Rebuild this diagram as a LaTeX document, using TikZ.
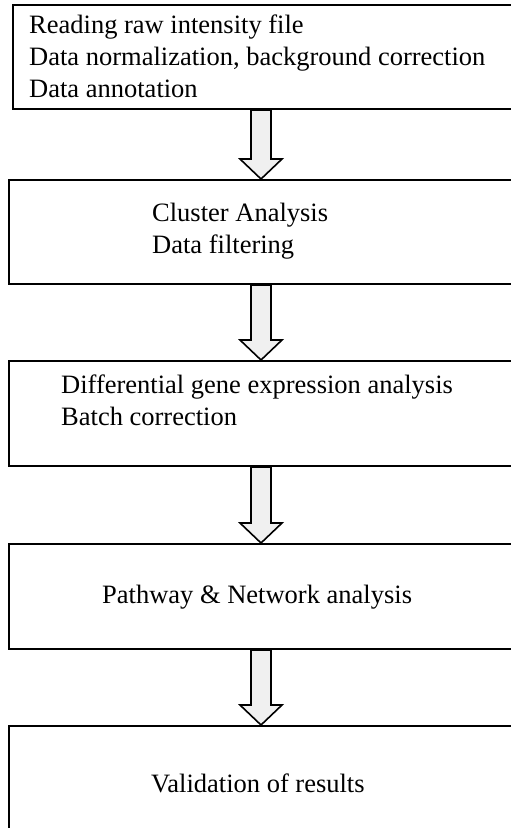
\documentclass[tikz,border=0pt]{standalone}
\usepackage{fontspec}
\setmainfont{Liberation Serif}
\usetikzlibrary{calc}
\begin{document}
\begin{tikzpicture}[x=1pt,y=-1pt,
  box/.style={draw=black,line width=2pt,rectangle,inner sep=0pt,anchor=north west,minimum width=540pt},
  lbl/.style={anchor=base west,inner sep=0pt,font=\fontsize{26.5}{32}\selectfont},
  arr/.style={draw=black,line width=1.6pt,fill=black!6,line join=miter}]
\useasboundingbox (0,0) rectangle (511,828);
\clip (0,0) rectangle (511,828);
\fill[white] (0,0) rectangle (511,828);
% boxes
\node[box,minimum height=104pt] (b1) at (12,4) {};
\node[box,minimum height=104pt] (b2) at (8,179) {};
\node[box,minimum height=105pt] (b3) at (8,360) {};
\node[box,minimum height=105pt] (b4) at (8,543) {};
\node[box,minimum height=140pt] (b5) at (8,725) {};
% texts
\node[lbl] (t1a) at (29,33) {Reading raw intensity file};
\node[lbl] (t1b) at (29,65) {Data normalization, background correction};
\node[lbl] (t1c) at (29,97) {Data annotation};
\node[lbl] (t2a) at (152,221) {Cluster Analysis};
\node[lbl] (t2b) at (152,253) {Data filtering};
\node[lbl] (t3a) at (61,393) {Differential gene expression analysis};
\node[lbl] (t3b) at (61,425) {Batch correction};
\node[lbl] (t4a) at (102,603) {Pathway \& Network analysis};
\node[lbl] (t5a) at (151,792) {Validation of results};
% arrows
\coordinate (ax) at (261,0);
\newcommand\fatarrow[2]{%
  \draw[arr] ($(#1 -| ax)+(-10,0)$) -- ($(#2 -| ax)+(-10,-20)$) -- ($(#2 -| ax)+(-21,-20)$) -- (#2 -| ax)
    -- ($(#2 -| ax)+(21,-20)$) -- ($(#2 -| ax)+(10,-20)$) -- ($(#1 -| ax)+(10,0)$) -- cycle;}
\fatarrow{b1.south}{b2.north}
\fatarrow{b2.south}{b3.north}
\fatarrow{b3.south}{b4.north}
\fatarrow{b4.south}{b5.north}
\end{tikzpicture}
\end{document}
